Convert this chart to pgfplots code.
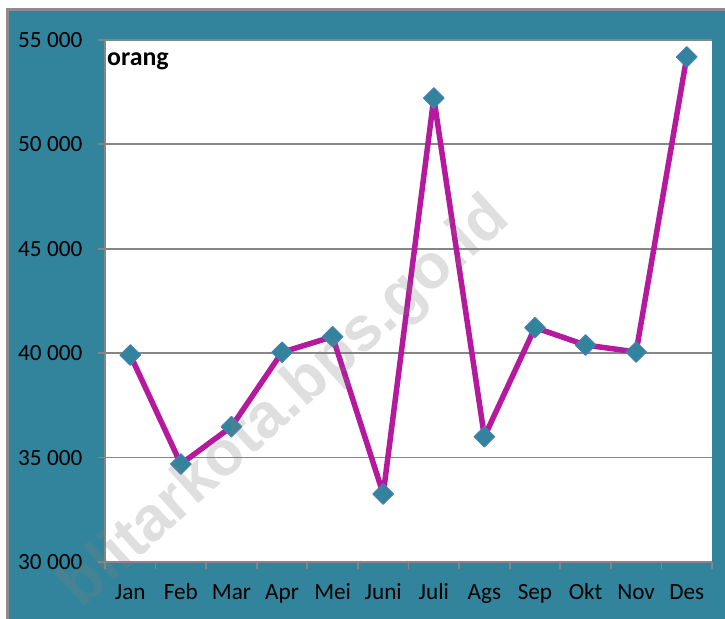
\documentclass[border=0pt]{standalone}
\usepackage{pgfplots}
\pgfplotsset{compat=1.18}
\usepackage{fontspec}
\setmainfont{Carlito}
\newfontfamily\wmfont{Liberation Sans}
\definecolor{bgteal}{RGB}{49,132,155}
\definecolor{linemag}{RGB}{180,25,158}
\definecolor{mkedge}{RGB}{74,126,187}
\definecolor{gridgray}{RGB}{134,134,134}
\definecolor{bordergray}{RGB}{140,140,140}
\begin{document}
\begin{tikzpicture}[x=1bp,y=1bp]
\path[use as bounding box] (0,0) rectangle (725,619);
\fill[bgteal] (7,-5) rectangle (730,609);
\draw[bordergray, line width=3bp] (7,-5) -- (7,609) -- (730,609);
\begin{axis}[
  at={(105bp,57bp)}, anchor=south west,
  width=607bp, height=522bp, scale only axis,
  xmin=-0.5, xmax=11.5, ymin=30000, ymax=55000,
  clip=false,
  scaled y ticks=false,
  axis background/.style={fill=white},
  axis lines=left,
  axis line style={-, draw=gridgray, line width=1.8bp},
  xtick={-0.5,0.5,...,11.5},
  xticklabels={Jan,Feb,Mar,Apr,Mei,Juni,Juli,Ags,Sep,Okt,Nov,Des,{}},
  ytick={30000,35000,40000,45000,50000,55000},
  yticklabels={30 000,35 000,40 000,45 000,50 000,55 000},
  ymajorgrids,
  grid style={draw=gridgray, line width=1.8bp},
  tick align=outside,
  major tick length=7.5bp,
  tick style={draw=gridgray, line width=1.8bp},
  ticklabel style={font=\fontsize{23.3}{28}\selectfont, text=black, inner sep=0pt},
  xticklabel style={anchor=base, xshift=25.3bp, yshift=-30bp},
  yticklabel style={anchor=east, xshift=-15bp},
]
\addplot[linemag, line width=5.5bp, line join=round, mark=square*, mark size=7.3bp,
  mark options={rotate=45, fill=bgteal, draw=mkedge, line width=1bp, solid}]
coordinates {
(0,39910) (1,34690) (2,36480) (3,40045) (4,40790) (5,33257)
(6,52220) (7,36000) (8,41225) (9,40390) (10,40060) (11,54186)
};
\end{axis}
\node[anchor=base west, font=\bfseries\fontsize{26}{30}\selectfont, inner sep=0pt] at (107,553) {orang};
\node[rotate=42, anchor=base east, font=\wmfont\bfseries\fontsize{63}{70}\selectfont, text=gray, text opacity=0.25, inner sep=0pt] at (512,397) {blitarkota.bps.go.id};
\end{tikzpicture}
\end{document}
